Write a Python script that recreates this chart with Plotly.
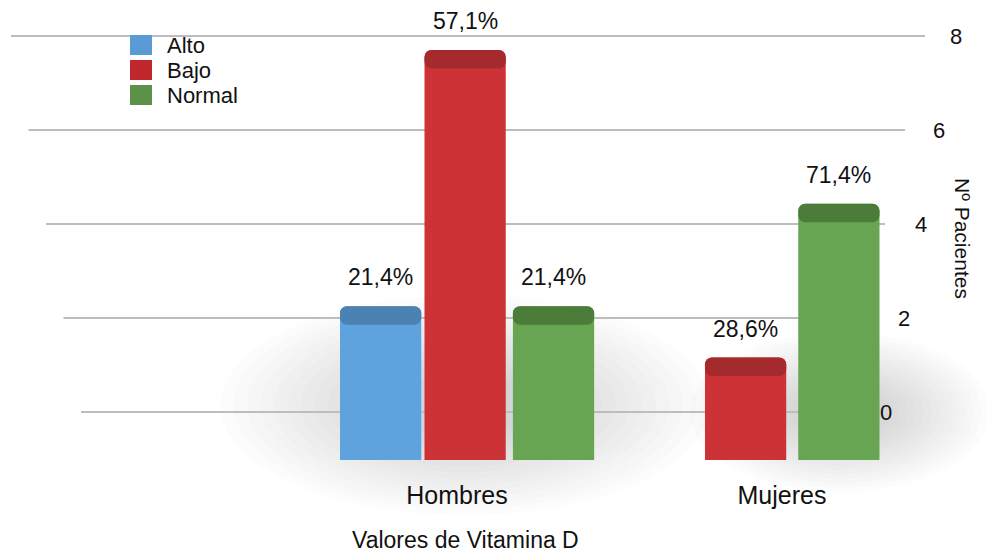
import plotly.graph_objects as go

# ---- data -------------------------------------------------------------
categories = ["Hombres", "Mujeres"]
series_names = ["Alto", "Bajo", "Normal"]
alto = [3, None]
bajo = [8, 2]
normal = [3, 5]
y_ticks = [0, 2, 4, 6, 8]

# ---- style / layout constants -------------------------------------------
W, H = 987, 557
B = 79                      # bottom margin (category labels + axis title)
PH = H - B                  # plot-area height in px
FONT = "Liberation Sans, Arial, Helvetica, sans-serif"
body_colors = {"Alto": "#5ea3dd", "Bajo": "#cc3236", "Normal": "#67a553"}
cap_colors = {"Alto": "#4c82b1", "Bajo": "#a52a2e", "Normal": "#4c7c3a"}
legend_colors = {"Alto": "#5a9bd5", "Bajo": "#c0282e", "Normal": "#5b9247"}

BAR_WIDTH = 0.25          # in category units
CAP_DEPTH = 0.36          # visible top face of each bar, in value units
# left edge of each bar relative to its category centre
offsets = {
    "Alto": [-0.36, -0.36],
    "Bajo": [-0.10, -0.237],
    "Normal": [0.172, 0.05],
}

values = {"Alto": alto, "Bajo": bajo, "Normal": normal}
totals = [sum(v[i] for v in values.values() if v[i] is not None)
          for i in range(len(categories))]


def pct_label(v, total):
    return f"{100 * v / total:.1f}%".replace(".", ",")


def px(x):
    return x / W


def py(y):
    return 1 - y / PH


fig = go.Figure()

# bar bodies
for name in series_names:
    fig.add_trace(go.Bar(
        x=categories, y=values[name], name=name,
        width=BAR_WIDTH, offset=offsets[name],
        marker=dict(color=body_colors[name], cornerradius=7,
                    line=dict(width=0)),
        showlegend=False, hoverinfo="skip",
    ))

# darker top faces
for name in series_names:
    vals = values[name]
    fig.add_trace(go.Bar(
        x=categories,
        y=[CAP_DEPTH if v is not None else None for v in vals],
        base=[v - CAP_DEPTH if v is not None else None for v in vals],
        width=BAR_WIDTH, offset=offsets[name],
        marker=dict(color=cap_colors[name], cornerradius=7,
                    line=dict(width=0)),
        showlegend=False, hoverinfo="skip",
    ))

annotations = []
shapes = []

# percentage labels above the bars
for name in series_names:
    for i, v in enumerate(values[name]):
        if v is None:
            continue
        annotations.append(dict(
            x=i + offsets[name][i] + BAR_WIDTH / 2, y=v,
            xref="x", yref="y", xanchor="center", yanchor="bottom",
            yshift=14, text=pct_label(v, totals[i]), showarrow=False,
            font=dict(family=FONT, size=23, color="#111111"),
        ))

# value axis labels, following the receding gridlines
for t in y_ticks:
    annotations.append(dict(
        x=px(886 + 8.75 * t), y=t, xref="paper", yref="y2",
        xanchor="center", yanchor="middle",
        text=str(t), showarrow=False,
        font=dict(family=FONT, size=22, color="#111111"),
    ))

annotations.append(dict(
    x=px(963), y=py(238), xref="paper", yref="paper",
    xanchor="center", yanchor="middle",
    text="Nº Pacientes", textangle=90, showarrow=False,
    font=dict(family=FONT, size=21, color="#111111"),
))

# category-axis title
annotations.append(dict(
    x=px(465), y=py(540), xref="paper", yref="paper",
    xanchor="center", yanchor="middle",
    text="Valores de Vitamina D", showarrow=False,
    font=dict(family=FONT, size=23, color="#111111"),
))

# legend: swatch + label per series
for k, name in enumerate(series_names):
    cy = 45 + 25 * k
    shapes.append(dict(
        type="rect", xref="paper", yref="paper",
        x0=px(130), x1=px(152), y0=py(cy + 10), y1=py(cy - 10),
        fillcolor=legend_colors[name], line=dict(width=0),
    ))
    annotations.append(dict(
        x=px(165), y=py(cy), xref="paper", yref="paper",
        xanchor="left", yanchor="middle", text=name, showarrow=False,
        font=dict(family=FONT, size=22, color="#111111"),
    ))

# soft floor shadow behind the bar groups
for cx, cy, rx, ry in [(465, 405, 245, 110), (840, 412, 150, 80)]:
    n = 14
    for k in range(n):
        s = 1 - k * 0.055
        shapes.append(dict(
            type="circle", xref="paper", yref="paper", layer="below",
            x0=px(cx - rx * s), x1=px(cx + rx * s),
            y0=py(cy + ry * s), y1=py(cy - ry * s),
            fillcolor="rgba(0,0,0,0.010)", line=dict(width=0),
        ))

# receding gridlines
for t in y_ticks:
    shapes.append(dict(
        type="line", xref="paper", yref="y2", layer="below",
        x0=px(81 - 8.75 * t), x1=px(845 + 10 * t), y0=t, y1=t,
        line=dict(color="#bdbdbd", width=2),
    ))

fig.update_layout(
    width=W, height=H,
    margin=dict(l=0, r=0, t=0, b=B),
    paper_bgcolor="white", plot_bgcolor="rgba(0,0,0,0)",
    barmode="overlay", showlegend=False,
    font=dict(family=FONT, size=18, color="#111111"),
    xaxis=dict(
        type="category", range=[-457 / 325, 1 + (W - 782) / 325],
        showgrid=False, zeroline=False, showline=False, ticks="",
        tickfont=dict(size=25),
    ),
    yaxis=dict(range=[-18 / 51.25, 460 / 51.25], visible=False),
    yaxis2=dict(range=[-66 / 47, 8 + 36 / 47], overlaying="y",
                visible=False),
    annotations=annotations,
    shapes=shapes,
)

fig.write_html("out.html")
